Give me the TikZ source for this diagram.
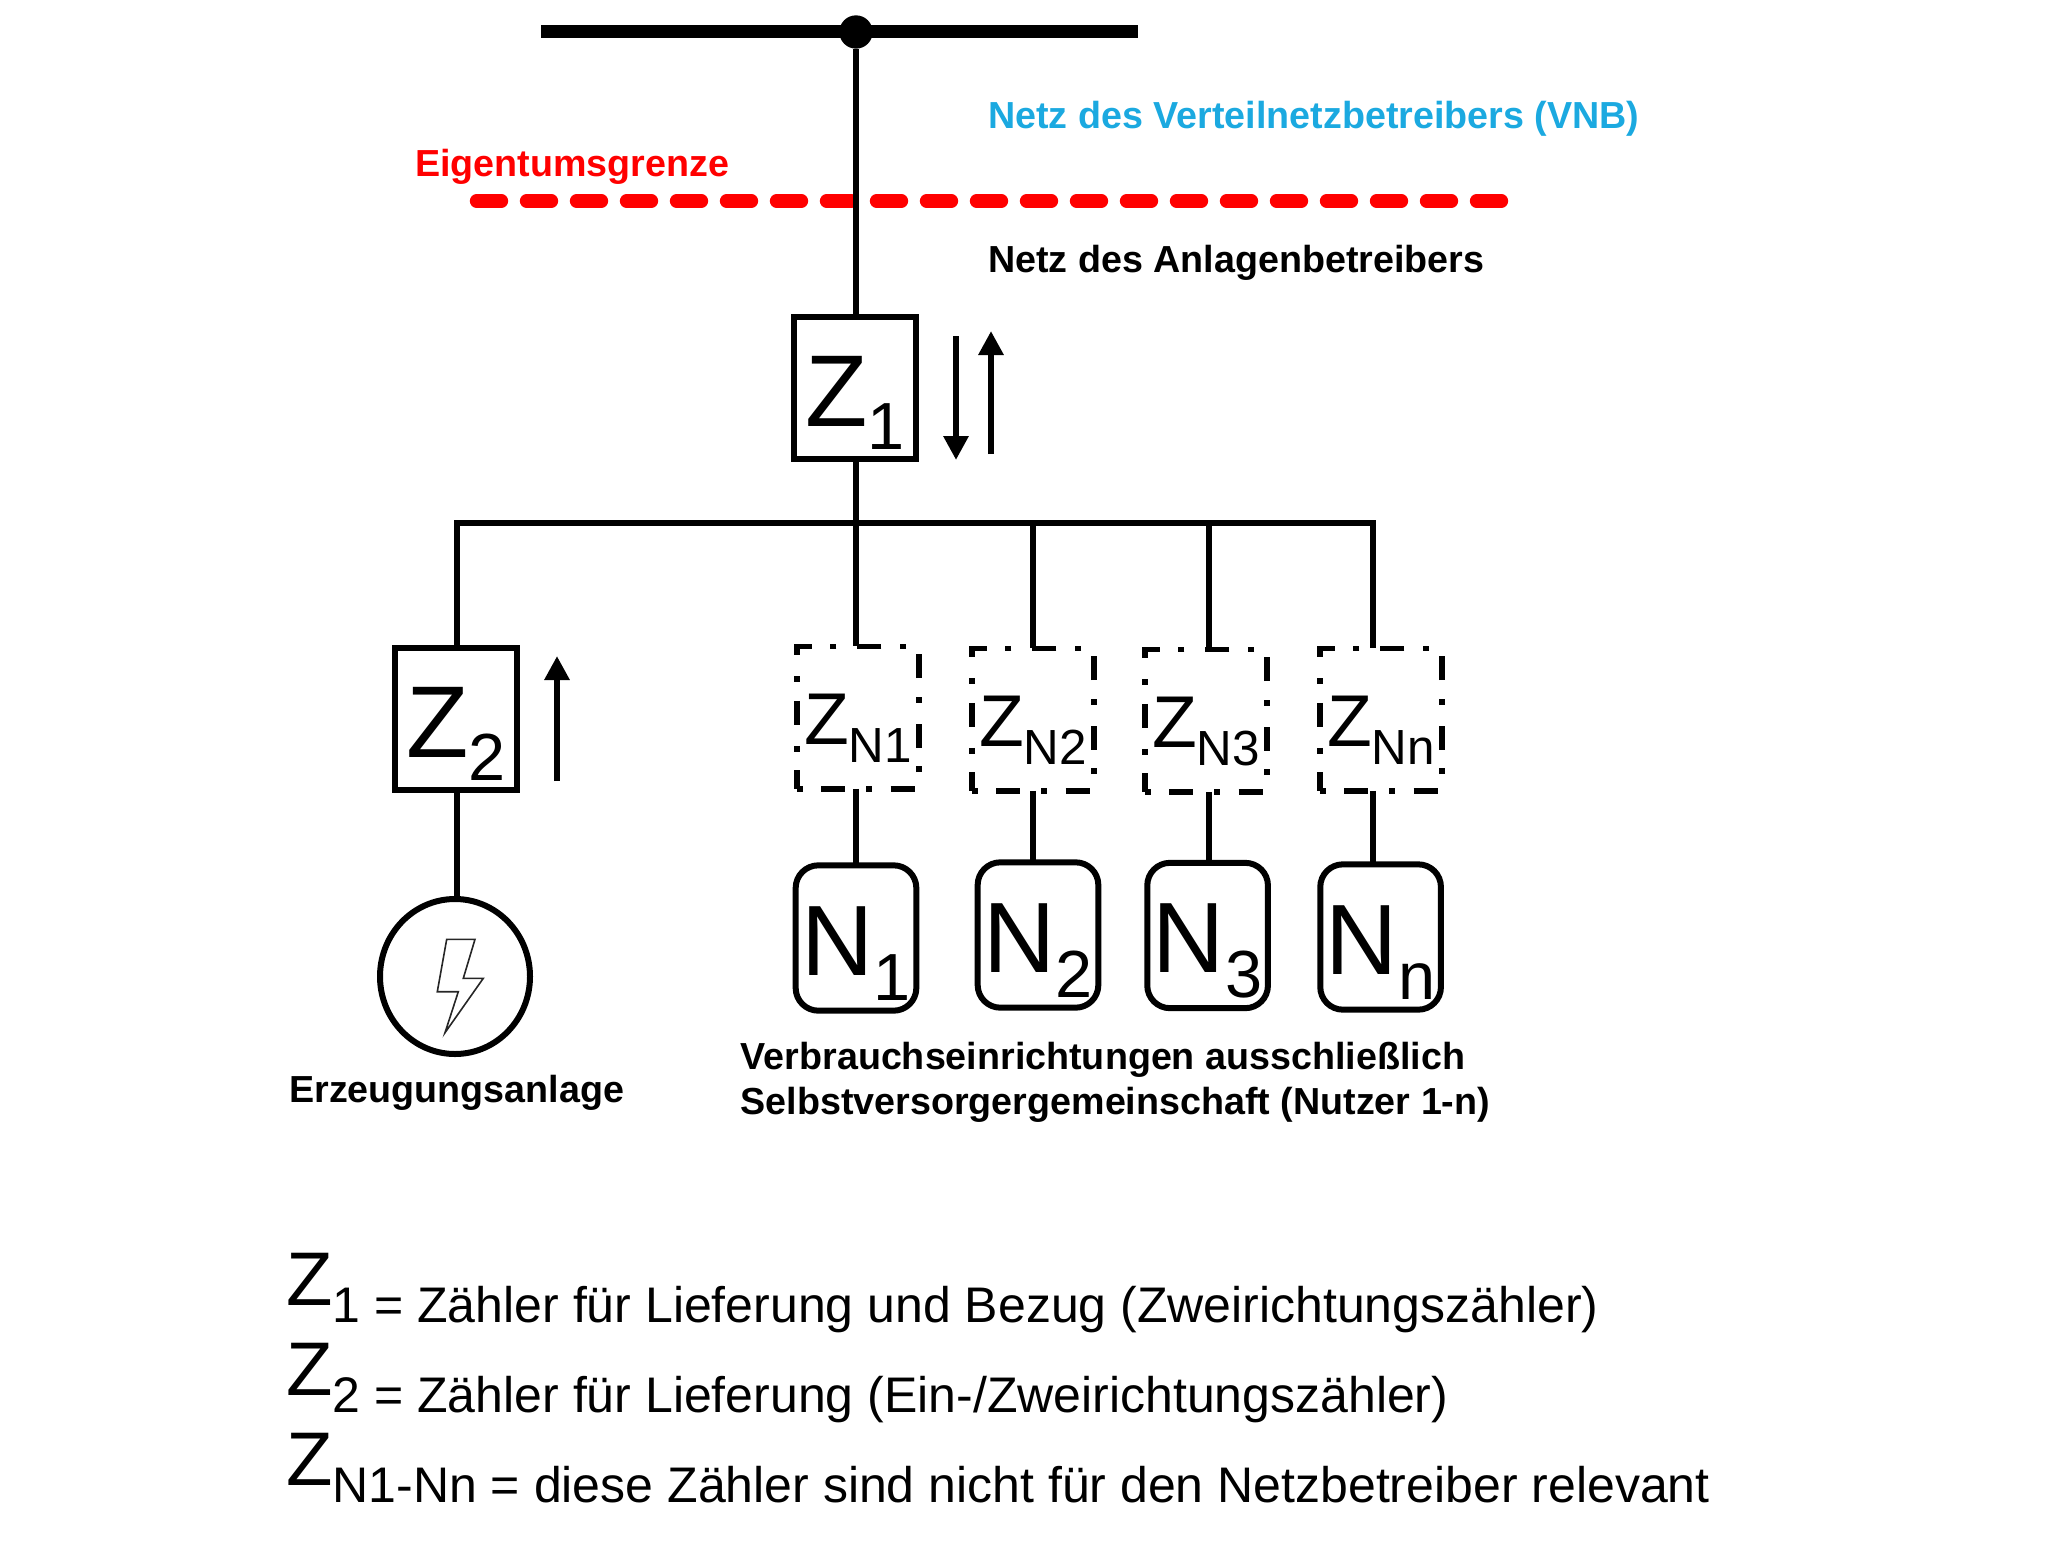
\documentclass[tikz,border=0pt]{standalone}
\usepackage{fontspec}
\setmainfont{Liberation Sans}
\usetikzlibrary{arrows.meta,shapes.geometric}

\newcommand{\fsz}[1]{\fontsize{#1}{#1}\selectfont}
\newcommand{\bigz}[2]{\smash{\raisebox{-29pt}{\fsz{76.5}#1\raisebox{-17pt}{\fsz{50}#2}}}}
\newcommand{\smallz}[1]{\smash{\raisebox{-20.6pt}{\fsz{55}Z\raisebox{-13.5pt}{\fsz{37}#1}}}}
\newcommand{\bign}[1]{\smash{\raisebox{-27.8pt}{\fsz{75}N\raisebox{-18.75pt}{\fsz{50}#1}}}}
\newcommand{\legz}{\raisebox{13pt}{\fsz{57}Z}}

\tikzset{
  wire/.style={line width=4.5pt},
  meter/.style={draw,line width=4.5pt,inner sep=0pt,outer sep=0pt,minimum width=91.5pt,minimum height=107pt},
  submeter/.style={meter,line width=4pt,minimum width=91.5pt,line cap=butt,dash pattern=on 18pt off 15.75pt on 4.5pt off 13.9pt,dash phase=34.1pt},
  consumer/.style={meter,rounded corners=17pt,minimum width=90.5pt,minimum height=109pt},
  flow/.style={line width=4.5pt,-{Triangle[length=18pt,width=18pt]}},
  boldtext/.style={font=\fsz{28.25}\bfseries,inner sep=0pt,anchor=base west},
  legend/.style={font=\fsz{37.5},inner sep=0pt,anchor=base west}
}

\begin{document}
\begin{tikzpicture}[x=0.75pt,y=0.75pt,yscale=-1,xscale=1]
\useasboundingbox (0,0) rectangle (2055,1541);

% Property line
\coordinate (redl) at (476.5,201);
\coordinate (redr) at (1509,201);
\draw [red,line width=10pt,line cap=round,dash pattern=on 18.75pt off 18.75pt] (redl) -- (redr);

% Busbar
\coordinate (busl) at (541,32);
\coordinate (busr) at (1137.5,32);
\draw [line width=9.75pt] (busl) -- (busr);
\node [circle,fill=black,inner sep=0pt,minimum size=25pt] (feed) at (856,32) {};

% Meters
\node [meter] (z1) at (855,388) {\bigz{Z}{1}};
\node [meter] (z2) at (455.7,719) {\bigz{Z}{2}};
\node [submeter] (zn1) at (858,717.5) {\smallz{N1}};
\node [submeter] (zn2) at (1033,719.5) {\smallz{N2}};
\node [submeter] (zn3) at (1206,720.5) {\smallz{N3}};
\node [submeter] (znn) at (1381,719.5) {\smallz{Nn}};

% Consumers
\node [consumer] (n1) at (856,938) {\bign{1}};
\node [consumer] (n2) at (1038,935) {\bign{2}};
\node [consumer] (n3) at (1207.6,935.5) {\bign{3}};
\node [consumer] (nn) at (1380.6,937) {\bign{n}};

% Generator
\node [ellipse,draw,line width=4.5pt,inner sep=0pt,outer sep=0pt,minimum width=112.5pt,minimum height=116.25pt] (gen) at (455,976.5) {};
\draw [line width=1.2pt,black!85,line join=miter] (446.7,939.3) -- (475,939.3) -- (463.3,978.3) -- (483.3,978.3) -- (445,1032.7) -- (458.3,991.7) -- (437.3,991.7) -- cycle;

% Collector
\coordinate (tapl) at (457,523);
\coordinate (tap1) at (856,523);
\coordinate (tap2) at (1032.7,523);
\coordinate (tap3) at (1208.7,523);
\coordinate (tapn) at (1373.4,523);
\draw [wire] ([xshift=-2pt]tapl) -- ([xshift=2pt]tapn);

% Connection
\draw [wire] (feed) -- (feed |- z1.north);
\draw [wire] (feed |- z1.south) -- (tap1);
\draw [wire] (tapl) -- (tapl |- z2.north);
\draw [wire] (tapl |- z2.south) -- (tapl |- gen.north);
\draw [wire] (tap1) -- (tap1 |- zn1.north);
\draw [wire] (tap2) -- (tap2 |- zn2.north);
\draw [wire] (tap3) -- (tap3 |- zn3.north);
\draw [wire] (tapn) -- (tapn |- znn.north);
\draw [wire] (tap1 |- zn1.south) -- (tap1 |- n1.north);
\draw [wire] (tap2 |- zn2.south) -- (tap2 |- n2.north);
\draw [wire] (tap3 |- zn3.south) -- (tap3 |- n3.north);
\draw [wire] (tapn |- znn.south) -- (tapn |- nn.north);

% Arrows
\coordinate (dna) at (956,336);
\coordinate (dnb) at (956,460);
\coordinate (upa) at (991,454);
\coordinate (upb) at (991,331);
\coordinate (gena) at (557,781);
\coordinate (genb) at (557,656);
\draw [flow] (dna) -- (dnb);
\draw [flow] (upa) -- (upb);
\draw [flow] (gena) -- (genb);

% Text Node
\node [boldtext,text={rgb,255:red,27;green,169;blue,224}] (vnb) at (988,129) {Netz des Verteilnetzbetreibers (VNB)};
\node [boldtext,text=red] (grenze) at (415,176) {Eigentumsgrenze};
\node [boldtext] (anlage) at (988,272) {Netz des Anlagenbetreibers};
\node [boldtext] (erz) at (289,1102) {Erzeugungsanlage};
\node [boldtext] (verb) at (740.5,1069) {Verbrauchseinrichtungen ausschließlich};
\node [boldtext] (selbst) at (740.5,1114) {Selbstversorgergemeinschaft (Nutzer 1-n)};
\node [legend] (leg1) at (286,1322.7) {\legz 1 = Zähler für Lieferung und Bezug (Zweirichtungszähler)};
\node [legend] (leg2) at (286,1412.7) {\legz 2 = Zähler für Lieferung (Ein-/Zweirichtungszähler)};
\node [legend] (leg3) at (286,1502.7) {\legz N1-Nn = diese Zähler sind nicht für den Netzbetreiber relevant};

\end{tikzpicture}
\end{document}
